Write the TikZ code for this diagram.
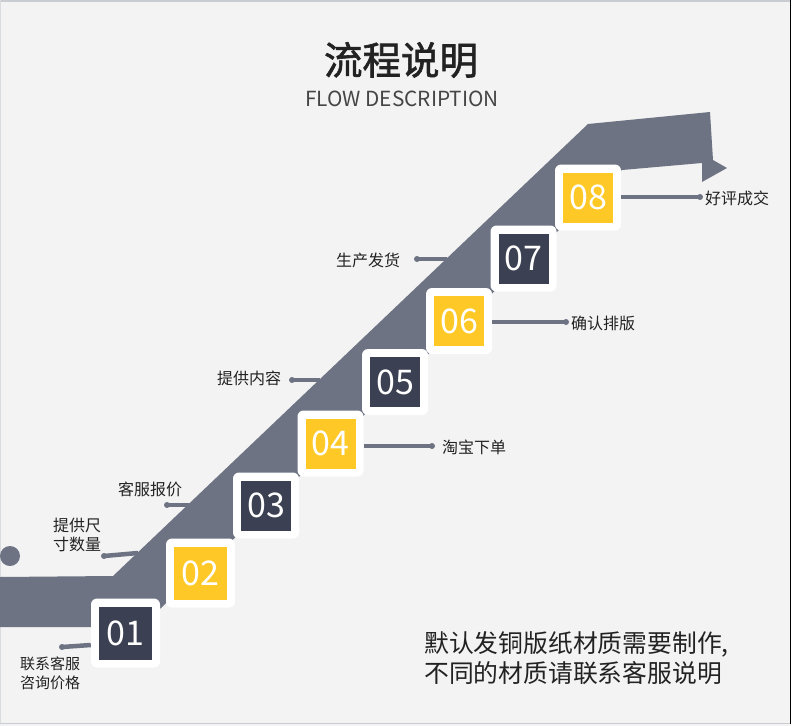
\documentclass[tikz,border=0pt]{standalone}
\usepackage{fontspec}
\setmainfont{Noto Sans CJK SC}
\newfontfamily\titlefont[FakeBold=1.6]{Noto Sans CJK SC}
\definecolor{bg}{HTML}{F3F3F3}
\definecolor{band}{HTML}{6D7382}
\definecolor{darkbox}{HTML}{3B4152}
\definecolor{yelbox}{HTML}{FEC926}
\definecolor{txt}{HTML}{222222}
\definecolor{subtxt}{HTML}{454545}
\definecolor{frameline}{HTML}{C9CDD2}
\begin{document}
\begin{tikzpicture}[x=1pt,y=-1pt,
  outerbox/.style={fill=white,rounded corners=6pt,minimum size=#1,inner sep=0pt},
  numbox/.style={minimum size=#1,inner sep=0pt,text=white,font=\fontsize{34}{34}\selectfont},
  darkstep/.style={numbox=#1,fill=darkbox},
  yelstep/.style={numbox=#1,fill=yelbox},
  lbl/.style={text=txt,font=\fontsize{16}{19}\selectfont,align=center,inner sep=0pt},
  pin/.style={draw=band,line width=4.5pt},
  pinend/.style={fill=band,circle,inner sep=0pt,minimum size=6pt}
]
\useasboundingbox (0,0) rectangle (793,726);
\fill[bg] (0,0) rectangle (793,726);
% frame lines
\draw[frameline,line width=2pt] (0,1) -- (790,1);
\draw[frameline,line width=1.5pt] (0,723.5) -- (790,723.5);
\draw[frameline!70,line width=1pt] (0.5,0) -- (0.5,723);
\draw[black,line width=1.5pt] (790.5,0) -- (790.5,724);
\fill[white] (791.3,0) rectangle (793,726);

% title
\node[text=txt,font=\fontsize{38.5}{38.5}\titlefont] (title) at (401,60) {流程说明};
\node[text=subtxt,font=\fontsize{20.8}{20.8}\selectfont] (sub) at (402,99) {FLOW DESCRIPTION};

% band with arrow
\fill[band] (0,577) -- (113,576) -- (588,124) -- (710,112) -- (713,160) -- (727,168)
  -- (702,182) -- (702,163) -- (622,170) -- (141,627) -- (0,627) -- cycle;
% left dot
\fill[band] (10,556) circle (10);

% pins from band edge
\coordinate (e2) at (138,553);
\coordinate (e3) at (189,505);
\coordinate (e5) at (320,380);
\coordinate (e7) at (447,259);
\coordinate (p1) at (62,647);
\coordinate (p2) at (104,556);
\coordinate (p3) at (167,505);
\coordinate (p4) at (432,446);
\coordinate (p5) at (292,380);
\coordinate (p6) at (566,322);
\coordinate (p7) at (417,259);
\coordinate (p8) at (700,197);

\draw[pin] (e2) -- (p2); \node[pinend] at (p2) {};
\draw[pin] (e3) -- (p3); \node[pinend] at (p3) {};
\draw[pin] (e5) -- (p5); \node[pinend] at (p5) {};
\draw[pin] (e7) -- (p7); \node[pinend] at (p7) {};

% boxes
\node[outerbox=69pt] (w1) at (125.5,633) {};
\node[darkstep=53pt] (b1) at (125.5,633) {01};
\node[outerbox=69pt] (w2) at (200.5,573) {};
\node[yelstep=53pt] (b2) at (200.5,573) {02};
\node[outerbox=66pt] (w3) at (266,505.5) {};
\node[darkstep=50pt] (b3) at (266,505.5) {03};
\node[outerbox=66pt] (w4) at (330.5,443.5) {};
\node[yelstep=50pt] (b4) at (330.5,443.5) {04};
\node[outerbox=66pt] (w5) at (395,382) {};
\node[darkstep=50pt] (b5) at (395,382) {05};
\node[outerbox=66pt] (w6) at (459,321) {};
\node[yelstep=50pt] (b6) at (459,321) {06};
\node[outerbox=66pt] (w7) at (523.5,258.5) {};
\node[darkstep=50pt] (b7) at (523.5,258.5) {07};
\node[outerbox=66pt] (w8) at (588,197.5) {};
\node[yelstep=50pt] (b8) at (588,197.5) {08};

% pins from boxes
\draw[pin] (w1.west |- p1) ++(0,-2) -- (p1); \node[pinend] at (p1) {};
\draw[pin] (w4.east |- p4) -- (p4); \node[pinend] at (p4) {};
\draw[pin] (w6.east |- p6) -- (p6); \node[pinend] at (p6) {};
\draw[pin] (w8.east |- p8) -- (p8); \node[pinend] at (p8) {};

% labels
\node[lbl,font=\fontsize{15}{19}\selectfont] (l1) at (50,673) {联系客服\\咨询价格};
\node[lbl] (l2) at (77,534.5) {提供尺\\寸数量};
\node[lbl] (l3) at (150,489) {客服报价};
\node[lbl] (l4) at (474,447) {淘宝下单};
\node[lbl] (l5) at (249,378) {提供内容};
\node[lbl] (l6) at (603,323) {确认排版};
\node[lbl] (l7) at (368,260) {生产发货};
\node[lbl] (l8) at (737,198) {好评成交};

% note
\node[text=txt,font=\fontsize{24.8}{30}\selectfont,align=left,anchor=west,inner sep=0pt] (note) at (424,658)
  {默认发铜版纸材质需要制作,\\不同的材质请联系客服说明};
\end{tikzpicture}
\end{document}
